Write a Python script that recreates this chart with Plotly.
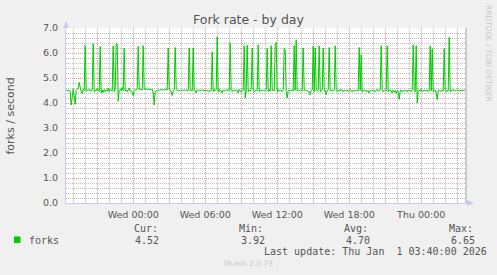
import plotly.graph_objects as go
from datetime import datetime, timedelta

# ---------------- data (5-minute samples, forks/second) ----------------
forks = [
    4.52, 4.50, 4.48, 4.52, 4.45, 3.92, 4.40, 4.55, 4.30, 3.95, 4.50, 4.55, 4.60, 4.82, 4.55, 4.45, 4.38, 4.55, 4.50, 6.30,
    4.48, 4.52, 4.50, 4.55, 4.48, 4.50, 4.52, 6.37, 4.45, 4.52, 4.48, 4.58, 4.50, 4.46, 6.26, 4.40, 4.52, 4.42, 4.55, 4.45,
    4.52, 4.48, 4.60, 4.45, 4.55, 4.50, 4.48, 6.29, 4.45, 4.55, 6.38, 6.36, 4.07, 4.50, 4.55, 4.48, 4.62, 4.50, 6.20, 4.48,
    4.52, 4.45, 4.55, 4.60, 4.48, 4.50, 4.42, 4.29, 4.50, 4.55, 4.52, 4.55, 6.26, 4.55, 4.53, 4.55, 4.52, 6.30, 4.55, 4.54,
    4.55, 4.56, 4.55, 4.54, 4.55, 4.53, 4.55, 4.40, 3.92, 4.45, 4.50, 4.48, 4.52, 4.50, 4.55, 4.52, 4.50, 4.55, 4.52, 4.54,
    4.55, 4.52, 6.20, 4.55, 4.52, 4.45, 4.30, 4.50, 4.52, 6.22, 4.55, 4.50, 4.52, 4.50, 4.48, 4.50, 4.52, 4.50, 4.52, 4.50,
    4.52, 4.50, 4.48, 6.20, 4.50, 4.52, 4.48, 6.20, 4.52, 4.50, 4.40, 4.52, 4.50, 4.52, 4.50, 4.52, 4.52, 4.50, 4.52, 4.50,
    4.48, 4.52, 4.50, 4.45, 4.52, 4.50, 6.05, 4.45, 4.55, 4.48, 4.52, 6.65, 4.45, 4.55, 4.48, 4.50, 4.40, 4.52, 4.50, 4.48,
    4.52, 4.55, 4.48, 4.50, 6.41, 4.50, 4.45, 4.52, 4.50, 4.48, 4.52, 4.50, 4.40, 4.55, 4.48, 4.45, 4.52, 4.50, 6.29, 4.20,
    4.50, 6.31, 4.45, 4.52, 4.48, 4.55, 6.20, 4.50, 4.45, 4.52, 4.48, 4.50, 6.33, 4.45, 4.52, 4.50, 4.48, 4.52, 4.50, 4.48,
    4.52, 6.18, 4.45, 4.55, 4.48, 6.29, 4.50, 4.52, 4.48, 6.33, 6.43, 4.45, 4.55, 4.48, 4.50, 4.52, 4.45, 4.50, 6.20, 6.12,
    4.45, 4.20, 4.50, 4.52, 4.48, 4.50, 4.52, 4.48, 6.30, 4.50, 6.53, 4.48, 4.52, 4.50, 4.52, 4.50, 4.48, 6.20, 4.50, 4.52,
    4.50, 4.50, 4.48, 4.45, 4.33, 4.50, 4.52, 6.29, 4.45, 6.20, 4.50, 4.48, 4.52, 6.28, 4.45, 4.50, 4.52, 6.20, 4.48, 4.50,
    4.33, 4.50, 4.52, 6.22, 4.48, 4.50, 4.52, 4.48, 4.50, 6.29, 4.50, 4.45, 4.52, 4.50, 4.48, 4.55, 4.50, 4.45, 4.52, 4.48,
    4.50, 4.52, 4.45, 4.50, 4.55, 4.48, 4.45, 4.52, 4.50, 4.48, 4.52, 4.50, 4.48, 6.22, 4.50, 5.93, 4.45, 4.52, 4.50, 4.48,
    4.52, 4.45, 4.50, 4.40, 4.48, 4.52, 4.50, 4.48, 4.52, 4.45, 4.50, 4.55, 4.48, 4.50, 4.52, 6.29, 4.50, 4.45, 4.52, 4.50,
    4.48, 6.29, 4.45, 4.52, 4.50, 4.48, 4.40, 4.52, 4.45, 4.50, 4.38, 4.50, 4.45, 4.15, 4.48, 4.52, 4.45, 4.50, 4.48, 4.52,
    4.50, 4.45, 4.52, 4.48, 4.50, 4.45, 4.52, 6.33, 4.50, 4.45, 6.29, 4.00, 4.50, 4.52, 4.48, 4.55, 4.45, 4.50, 4.52, 4.48,
    4.50, 4.52, 4.45, 4.50, 6.29, 4.48, 6.17, 4.45, 4.50, 4.52, 4.40, 4.14, 4.48, 4.52, 4.50, 4.45, 4.52, 4.48, 6.18, 4.50,
    4.45, 4.52, 4.48, 6.62, 4.45, 4.52, 4.50, 4.55, 4.48, 4.50, 4.52, 4.50, 4.48, 4.52, 4.50, 4.48, 4.52, 4.50, 4.50, 4.52,
]
first_sample = datetime(2025, 12, 30, 18, 25)
step_minutes = 5
x_range = [datetime(2025, 12, 30, 18, 24), datetime(2026, 1, 1, 3, 44)]

x_tick_times = [datetime(2025, 12, 30, 21, 0) + timedelta(hours=3 * k) for k in range(11)]
x_tick_labels = ["", "Wed 00:00", "", "Wed 06:00", "", "Wed 12:00", "", "Wed 18:00", "", "Thu 00:00", ""]
y_ticks = [0, 1, 2, 3, 4, 5, 6, 7]
y_tick_labels = ["0.0", "1.0", "2.0", "3.0", "4.0", "5.0", "6.0", "7.0"]

series_name = "forks"
legend_headers = ["Cur:", "Min:", "Avg:", "Max:"]
legend_values = ["4.52", "3.92", "4.70", "6.65"]
title_text = "Fork rate - by day"
y_title = "forks / second"
last_update = "Last update: Thu Jan\u00a0 1 03:40:00 2026"
side_text = "RRDTOOL / TOBI OETIKER"
footer_text = "Munin 2.0.73"

# ---------------- layout geometry ----------------
W, H = 497, 275
L, R, T, B = 66, 31, 28, 72
PW, PH = W - L - R, H - T - B

def px(x):
    return (x - L) / PW

def py(y):
    return (H - B - y) / PH

times = [first_sample + timedelta(minutes=step_minutes * i) for i in range(len(forks))]

GREEN = "#00CC00"
TXT = "#555555"
MAJOR = "#DE9A9A"
MINOR = "#BDBDBD"
AXIS = "#C5CCF2"

fig = go.Figure()
fig.add_trace(go.Scatter(x=times, y=forks, mode="lines",
                         line=dict(color=GREEN, width=1), showlegend=False, hoverinfo="skip"))

fig.update_layout(
    width=W, height=H,
    margin=dict(l=L, r=R, t=T, b=B, pad=0),
    paper_bgcolor="#F0F0F0", plot_bgcolor="#FFFFFF",
    font=dict(family="DejaVu Sans", size=9.5, color=TXT),
    showlegend=False,
)
fig.update_xaxes(
    type="date", range=x_range, tickmode="array", tickvals=x_tick_times, ticktext=x_tick_labels,
    showgrid=True, gridcolor=MAJOR, griddash="1px,1px", gridwidth=1,
    minor=dict(dtick=3600000, tick0="2025-12-30 00:00", showgrid=True, gridcolor=MINOR,
               griddash="1px,1px", gridwidth=1),
    showline=True, linecolor=AXIS, linewidth=1, zeroline=False, ticks="",
    tickfont=dict(family="DejaVu Sans", size=9.5, color=TXT), ticklabelstandoff=3,
)
fig.update_yaxes(
    range=[0, 7], tickmode="array", tickvals=y_ticks, ticktext=y_tick_labels,
    showgrid=True, gridcolor=MAJOR, griddash="1px,1px", gridwidth=1,
    minor=dict(dtick=0.2, tick0=0, showgrid=True, gridcolor=MINOR, griddash="1px,1px", gridwidth=1),
    showline=True, linecolor=AXIS, linewidth=1, zeroline=False, ticks="",
    tickfont=dict(family="DejaVu Sans", size=9.5, color=TXT), ticklabelstandoff=5,
)

shapes = []
shapes.append(dict(type="line", xref="paper", yref="paper", x0=1, x1=1, y0=0, y1=1,
                   line=dict(color="#A0A0A0", width=1)))
shapes.append(dict(type="path", xref="paper", yref="paper",
                   path=f"M {px(63)} {py(28)} L {px(69)} {py(28)} L {px(66)} {py(21)} Z",
                   fillcolor=AXIS, line=dict(width=0)))
shapes.append(dict(type="path", xref="paper", yref="paper",
                   path=f"M {px(467)} {py(200)} L {px(467)} {py(206)} L {px(474)} {py(203)} Z",
                   fillcolor=AXIS, line=dict(width=0)))
shapes.append(dict(type="rect", xref="paper", yref="paper",
                   x0=px(14), x1=px(20.5), y0=py(243), y1=py(236.5),
                   fillcolor=GREEN, line=dict(width=0)))
fig.update_layout(shapes=shapes)

ann = []
def txt(x, y, s, size, color=TXT, family="DejaVu Sans", xanchor="center", angle=0):
    ann.append(dict(xref="paper", yref="paper", x=px(x), y=py(y), text=s, showarrow=False,
                    xanchor=xanchor, yanchor="middle", textangle=angle,
                    font=dict(family=family, size=size, color=color)))

txt(248.5, 19, title_text, 12.5)
txt(10, 115.5, y_title, 11, angle=-90)
txt(489, 53, side_text, 7.5, color="#C8C8C8", angle=90)
txt(248, 263, footer_text, 7.5, color="#C8C8C8")

MONO = "DejaVu Sans Mono"
txt(26.5, 240, series_name, 10, family=MONO, xanchor="left")
header_x = [131.5, 236.5, 341.5, 446.5]
value_x = [160.5, 266.5, 371.5, 476.5]
for hx, h in zip(header_x, legend_headers):
    txt(hx, 228, h, 10, family=MONO, xanchor="left")
for vx, v in zip(value_x, legend_values):
    txt(vx, 240, v, 10, family=MONO, xanchor="right")
txt(261.5, 251.5, last_update, 10, family=MONO, xanchor="left")

fig.update_layout(annotations=ann)
fig.write_html("out.html", config={"displayModeBar": False})
